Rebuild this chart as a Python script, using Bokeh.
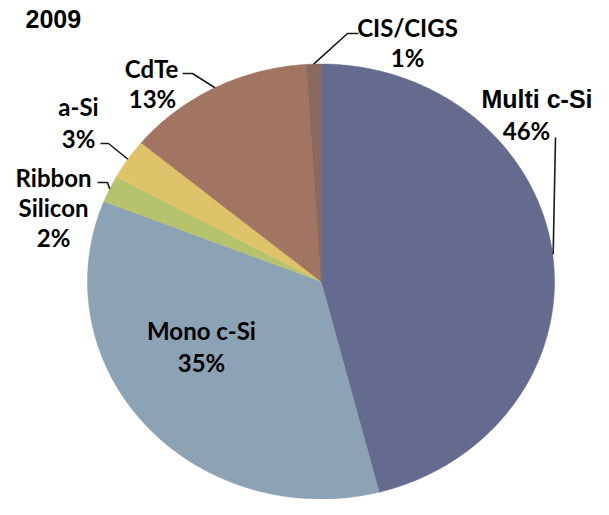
import numpy as np
from bokeh.plotting import figure
from bokeh.models import Range1d
from bokeh.core.properties import value
from bokeh.embed import file_html
from bokeh.resources import INLINE

# ---- data ----
title = "2009"
categories = ["Multi c-Si", "Mono c-Si", "Ribbon Silicon", "a-Si", "CdTe", "CIS/CIGS"]
shares = [46, 35, 2, 3, 13, 1]
colors = ["#646b8f", "#8ca2b5", "#b7c26d", "#dec36b", "#a27462", "#8a6a5e"]

# ---- layout (reference pixel coordinates) ----
W, H = 593, 499
cx, cy, rx, ry = 320.5, 281.0, 233.5, 217.5

p = figure(width=W, height=H, output_backend="svg", toolbar_location=None,
           x_range=Range1d(0, W), y_range=Range1d(H, 0),
           min_border=0)
p.axis.visible = False
p.grid.visible = False
p.outline_line_color = None
p.background_fill_color = "white"

vals = np.array(shares, dtype=float)
fr = vals / vals.sum()
ends = np.cumsum(fr) * 2 * np.pi
starts = ends - fr * 2 * np.pi
mids = (starts + ends) / 2

xs, ys = [], []
for a0, a1 in zip(starts, ends):
    t = np.linspace(a0, a1, max(int((a1 - a0) * 120), 4))
    xs.append(list(np.r_[cx, cx + rx * np.sin(t), cx]))
    ys.append(list(np.r_[cy, cy - ry * np.cos(t), cy]))
p.patches(xs=xs, ys=ys, fill_color=colors, line_color=colors, line_width=0.5)

# leader lines: label end -> elbow -> slice mid point on rim
edge_x = cx + rx * np.sin(mids)
edge_y = cy - ry * np.cos(mids)
leader_pts = {  # label-side point, elbow
    "Multi c-Si": [(555, 137), (555, 150)],
    "CIS/CIGS": [(358, 33), (347, 33)],
    "CdTe": [(182, 73), (192, 73)],
    "a-Si": [(100, 143), (108, 143)],
    "Ribbon Silicon": [(97, 182), (107, 182)],
}
lx, ly = [], []
for i, c in enumerate(categories):
    if c in leader_pts:
        (x0, y0), (x1, y1) = leader_pts[c]
        if c == "Multi c-Si":
            lx.append([x0, edge_x[i] + 0.5]); ly.append([y0, edge_y[i]])
        else:
            lx.append([x0, x1, edge_x[i]]); ly.append([y0, y1, edge_y[i]])
p.multi_line(xs=lx, ys=ly, line_color="#1a1a1a", line_width=1.6)

# labels
label_lines = {
    "Mono c-Si": [("Mono c-Si", 201, 330), ("35%", 201, 362)],
    "Ribbon Silicon": [("Ribbon", 53, 177), ("Silicon", 53, 207), ("2%", 53, 237)],
    "a-Si": [("a-Si", 78, 106), ("3%", 78, 138)],
    "CdTe": [("CdTe", 151, 68), ("13%", 152, 98)],
    "CIS/CIGS": [("CIS/CIGS", 407, 27), ("1%", 407, 57)],
}
tx, ty, tt = [], [], []
for i, c in enumerate(categories):
    if c in label_lines:
        for s, x, y in label_lines[c]:
            tx.append(x); ty.append(y); tt.append(s)
tx.append(526); ty.append(130); tt.append("%d%%" % shares[0])
p.text(x=tx, y=ty, text=tt, text_font=value("Lato"), text_font_style="bold",
       text_font_size="24px", text_align="center", text_baseline="middle",
       text_color="black")

p.text(x=[592], y=[98], text=[categories[0]], text_font=value("Liberation Sans"),
       text_font_style="bold", text_font_size="25px", text_align="right",
       text_baseline="middle", text_color="black")
p.text(x=[25], y=[18], text=[title], text_font=value("Liberation Sans"),
       text_font_style="bold", text_font_size="25px", text_align="left",
       text_baseline="middle", text_color="black")

open("out.html", "w").write(file_html(p, INLINE))
